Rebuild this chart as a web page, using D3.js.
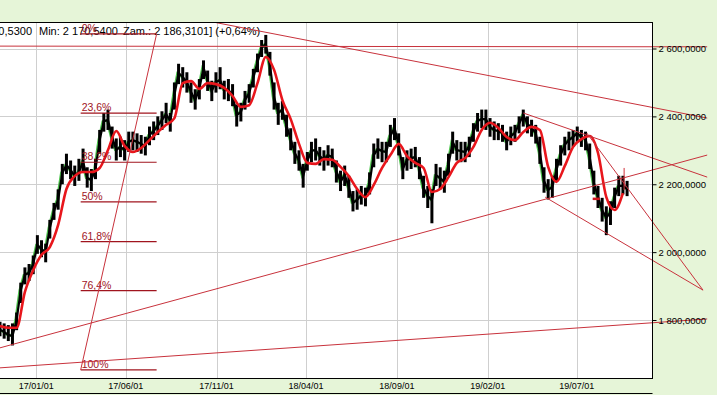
<!DOCTYPE html>
<html>
<head>
<meta charset="utf-8">
<script src="https://cdn.jsdelivr.net/npm/d3@7"></script>
<style>
  body { margin: 0; background: #e6f5d8; }
  svg { display: block; }
</style>
</head>
<body>
<svg id="chart" width="717" height="395"></svg>
<script>
// weekly bars, first one on 2016-11-01
const startDate = "2016-11-01"

const closes = [
  1771,1765,1756,1753,1800,1888,1933,1939,1965,2021,
  2009,2000,2071,2121,2154,2233,2257,2242,2224,2236,
  2266,2218,2213,2245,2330,2386,2389,2339,2301,2310,
  2301,2325,2330,2325,2319,2313,2345,2357,2372,2389,
  2407,2386,2463,2528,2516,2501,2472,2448,2481,2543,
  2507,2475,2501,2507,2478,2478,2463,2404,2413,2448,
  2469,2513,2560,2602,2613,2551,2457,2410,2419,2372,
  2333,2292,2269,2224,2269,2298,2301,2283,2272,2286,
  2280,2239,2207,2227,2192,2145,2154,2168,2163,2204,
  2286,2304,2298,2295,2342,2366,2316,2245,2272,2277,
  2280,2248,2189,2165,2154,2227,2218,2207,2257,2325,
  2301,2298,2295,2313,2354,2386,2392,2392,2369,2360,
  2357,2351,2325,2342,2351,2378,2404,2378,2366,2351,
  2295,2210,2183,2192,2242,2286,2316,2330,2339,2351,
  2339,2333,2280,2204,2162,2124,2101,2118,2162,2195,
  2195,2186
]

const highs = [
  1795,1790,1785,1790,1822,1910,1955,1965,1990,2050,
  2035,2025,2095,2145,2185,2260,2290,2270,2255,2275,
  2305,2250,2245,2275,2360,2410,2420,2370,2335,2340,
  2330,2355,2355,2350,2345,2340,2370,2385,2400,2415,
  2440,2410,2500,2555,2545,2530,2500,2480,2510,2565,
  2535,2505,2530,2545,2505,2510,2495,2435,2440,2475,
  2495,2540,2585,2625,2640,2590,2500,2440,2445,2405,
  2365,2325,2300,2260,2295,2325,2335,2310,2300,2315,
  2305,2270,2240,2255,2225,2180,2185,2195,2190,2235,
  2320,2335,2325,2325,2375,2395,2350,2280,2300,2305,
  2310,2280,2225,2195,2185,2260,2250,2240,2290,2355,
  2330,2325,2325,2340,2380,2410,2420,2420,2395,2385,
  2380,2375,2355,2370,2375,2400,2420,2400,2390,2375,
  2340,2250,2215,2225,2275,2315,2340,2355,2360,2370,
  2360,2355,2320,2240,2195,2160,2135,2150,2190,2225,
  2225,2210
]

const lows = [
  1752,1745,1738,1725,1770,1850,1905,1915,1935,1995,
  1985,1970,2040,2095,2125,2200,2230,2215,2195,2210,
  2235,2190,2180,2215,2290,2355,2360,2305,2270,2280,
  2270,2295,2300,2295,2290,2285,2315,2330,2345,2360,
  2380,2355,2420,2495,2485,2470,2440,2420,2450,2510,
  2475,2445,2470,2480,2450,2445,2430,2370,2385,2420,
  2440,2485,2530,2575,2585,2520,2420,2375,2390,2340,
  2300,2260,2240,2190,2240,2265,2270,2255,2240,2255,
  2250,2205,2180,2195,2160,2120,2125,2140,2135,2170,
  2250,2275,2265,2265,2310,2330,2285,2215,2240,2245,
  2250,2215,2160,2130,2085,2195,2185,2175,2225,2290,
  2270,2265,2265,2280,2325,2355,2365,2360,2340,2330,
  2330,2325,2300,2315,2325,2350,2370,2350,2340,2320,
  2260,2175,2155,2160,2210,2255,2285,2300,2310,2325,
  2310,2300,2245,2170,2130,2090,2050,2080,2130,2165,
  2170,2165
]

// red moving average, one value every two weeks
const maValues = [
  1782,1777,1777,1883,1947,1992,2015,2080,2186,2224,
  2236,2236,2248,2301,2357,2313,2295,2307,2330,2354,
  2375,2395,2498,2504,2481,2498,2495,2484,2460,2428,
  2433,2498,2575,2537,2448,2392,2319,2263,2260,2274,
  2272,2251,2224,2186,2162,2198,2248,2286,2319,2283,
  2263,2248,2177,2186,2221,2263,2277,2310,2360,2381,
  2366,2339,2330,2354,2369,2360,2251,2207,2254,2310,
  2333,2342,2292,2162,2124,2174
]

const xTickDates = ["2017-01-01","2017-06-01","2017-11-01","2018-04-01","2018-09-01","2019-02-01","2019-07-01"]
const yTicks = [1800, 2000, 2200, 2400, 2600]

const fibLevels = [0, 23.6, 38.2, 50, 61.8, 76.4, 100]
const fibLabels = ["0%", "23,6%", "38,2%", "50%", "61,8%", "76,4%", "100%"]
const fibStart = ["2017-03-17", 1653]
const fibEnd = ["2017-07-23", 2643]

const trendLines = [
  [["2016-11-01", 2607], ["2020-02-06", 2605]],
  [["2017-10-26", 2678], ["2020-02-06", 2395]],
  [["2019-04-02", 2410], ["2020-02-06", 2221]],
  [["2019-07-18", 2351], ["2020-01-30", 1888]],
  [["2019-05-09", 2162], ["2020-01-30", 1888]],
  [["2016-11-01", 1718], ["2020-02-06", 2286]],
  [["2016-11-01", 1659], ["2020-02-06", 1803]]
]

const headerLeft = "Max: 2 640,5300"
const headerMin = "Min: 2 170,5400"
const headerClose = "Zam.: 2 186,3101] (+0,64%)"

const W = 717, H = 395
const plot = {left: 0, right: 652, top: 22, bottom: 378}
const font = "'Liberation Sans', Arial, sans-serif"

const parse = d3.utcParse("%Y-%m-%d")
const x = d3.scaleUtc()
  .domain([parse("2016-11-01"), parse("2019-11-05")])
  .range([plot.left, plot.right])
const y = d3.scaleLinear().domain([1800, 2600]).range([320, 48.5])

const loc = d3.formatLocale({decimal: ",", thousands: " ", grouping: [3], currency: ["", ""]})
const fmtY = loc.format(",.4f")
const fmtX = d3.utcFormat("%y/%m/%d")

const t0 = parse(startDate)
const bars = closes.map((c, i) => ({date: d3.utcDay.offset(t0, 7 * i), close: c, high: highs[i], low: lows[i]}))
const ma = maValues.map((v, i) => ({date: d3.utcDay.offset(t0, 14 * i), value: v}))

const svg = d3.select("#chart")

svg.append("rect").attr("width", W).attr("height", H).attr("fill", "#e6f5d8")
svg.append("rect")
  .attr("x", plot.left - 2).attr("y", plot.top)
  .attr("width", plot.right - plot.left + 2).attr("height", plot.bottom - plot.top)
  .attr("fill", "#fff")

const defs = svg.append("defs")
defs.append("clipPath").attr("id", "plotClip").append("rect")
  .attr("x", plot.left).attr("y", plot.top)
  .attr("width", plot.right - plot.left).attr("height", plot.bottom - plot.top)
defs.append("clipPath").attr("id", "lineClip").append("rect")
  .attr("x", plot.left).attr("y", plot.top)
  .attr("width", 708).attr("height", plot.bottom - plot.top)

// grid
const grid = svg.append("g").attr("stroke", "#cfcfcf").attr("stroke-width", 1)
grid.selectAll("line.h").data(yTicks).join("line").attr("class", "h")
  .attr("x1", plot.left).attr("x2", plot.right)
  .attr("y1", d => Math.round(y(d)) + 0.5).attr("y2", d => Math.round(y(d)) + 0.5)
grid.selectAll("line.v").data(xTickDates).join("line").attr("class", "v")
  .attr("x1", d => Math.round(x(parse(d))) + 0.5).attr("x2", d => Math.round(x(parse(d))) + 0.5)
  .attr("y1", plot.top).attr("y2", plot.bottom)

// header text
const head = svg.append("g").style("font", `11px ${font}`).attr("fill", "#000")
head.append("text").attr("x", 32).attr("y", 35).attr("text-anchor", "end").text(headerLeft)
head.append("text").attr("x", 39).attr("y", 35).text(headerMin)
head.append("text").attr("x", 123).attr("y", 35).text(headerClose)

// price
const price = svg.append("g").attr("clip-path", "url(#plotClip)")
price.append("path").datum(bars)
  .attr("fill", "none").attr("stroke", "#4cc44c").attr("stroke-width", 1.6)
  .attr("d", d3.line().x(d => x(d.date) - 1.5).y(d => y(d.close)))
price.append("g").attr("stroke", "#000").attr("stroke-width", 3)
  .selectAll("line").data(bars).join("line")
  .attr("x1", d => x(d.date)).attr("x2", d => x(d.date))
  .attr("y1", d => y(d.high)).attr("y2", d => y(d.low))
price.append("path").datum(bars)
  .attr("fill", "none").attr("stroke", "#000").attr("stroke-width", 2.2)
  .attr("d", d3.line().x(d => x(d.date)).y(d => y(d.close)))
price.append("path").datum(ma)
  .attr("fill", "none").attr("stroke", "#e8161c").attr("stroke-width", 2.6)
  .attr("d", d3.line().curve(d3.curveMonotoneX).x(d => x(d.date)).y(d => y(d.value)))

// fibonacci retracement
const fibTop = fibEnd[1], fibBottom = fibStart[1]
const fibVal = p => fibTop - p / 100 * (fibTop - fibBottom)
const fib = svg.append("g").attr("clip-path", "url(#plotClip)")
fib.selectAll("line").data(fibLevels).join("line")
  .attr("x1", x(parse(fibStart[0]))).attr("x2", x(parse(fibEnd[0])))
  .attr("y1", d => y(fibVal(d))).attr("y2", d => y(fibVal(d)))
  .attr("stroke", "#a0141e").attr("stroke-width", 1.2)
fib.selectAll("text").data(fibLevels).join("text")
  .attr("x", x(parse(fibStart[0])) + 1).attr("y", d => y(fibVal(d)) - 2)
  .attr("fill", "#a0141e").style("font", `10.5px ${font}`)
  .text((d, i) => fibLabels[i])
fib.append("line")
  .attr("x1", x(parse(fibStart[0]))).attr("y1", y(fibStart[1]))
  .attr("x2", x(parse(fibEnd[0]))).attr("y2", y(fibEnd[1]))
  .attr("stroke", "#c8323c").attr("stroke-width", 1)

// trend lines
svg.append("g").attr("clip-path", "url(#lineClip)")
  .selectAll("line").data(trendLines).join("line")
  .attr("x1", d => x(parse(d[0][0]))).attr("y1", d => y(d[0][1]))
  .attr("x2", d => x(parse(d[1][0]))).attr("y2", d => y(d[1][1]))
  .attr("stroke", "#c8323c").attr("stroke-width", 1)

// small markers near the last bars
svg.append("line")
  .attr("x1", x(parse("2019-09-19"))).attr("x2", x(parse("2019-09-19")))
  .attr("y1", y(2248)).attr("y2", y(2183))
  .attr("stroke", "#d2323c").attr("stroke-width", 1)
svg.append("line")
  .attr("x1", x(parse("2019-07-28"))).attr("x2", x(parse("2019-08-09")))
  .attr("y1", y(2157)).attr("y2", y(2157))
  .attr("stroke", "#d2141c").attr("stroke-width", 2.5)

// frame
const frame = svg.append("g").attr("stroke", "#000").attr("stroke-width", 1)
frame.append("line").attr("x1", 0).attr("x2", plot.right + 0.5).attr("y1", plot.top + 0.5).attr("y2", plot.top + 0.5)
frame.append("line").attr("x1", plot.right + 0.5).attr("x2", plot.right + 0.5).attr("y1", plot.top).attr("y2", plot.bottom + 1)
frame.append("line").attr("x1", 0).attr("x2", plot.right + 0.5).attr("y1", plot.bottom + 0.5).attr("y2", plot.bottom + 0.5)
frame.append("line").attr("x1", 0).attr("x2", plot.right + 0.5).attr("y1", 393.5).attr("y2", 393.5)

// right axis
const yAxis = svg.append("g")
  .attr("transform", `translate(${plot.right + 0.5},0)`)
  .call(d3.axisRight(y).tickValues(yTicks).tickSize(4).tickPadding(2).tickFormat(fmtY))
yAxis.select(".domain").remove()
yAxis.selectAll("text").style("font", `9.5px ${font}`).attr("fill", "#000")
yAxis.selectAll("line").attr("stroke", "#000")

// bottom labels
svg.append("g").style("font", `9px ${font}`)
  .selectAll("text").data(xTickDates).join("text")
  .attr("x", d => x(parse(d))).attr("y", 389)
  .attr("text-anchor", "middle").attr("fill", "#000")
  .text(d => fmtX(parse(d)))
</script>
</body>
</html>
